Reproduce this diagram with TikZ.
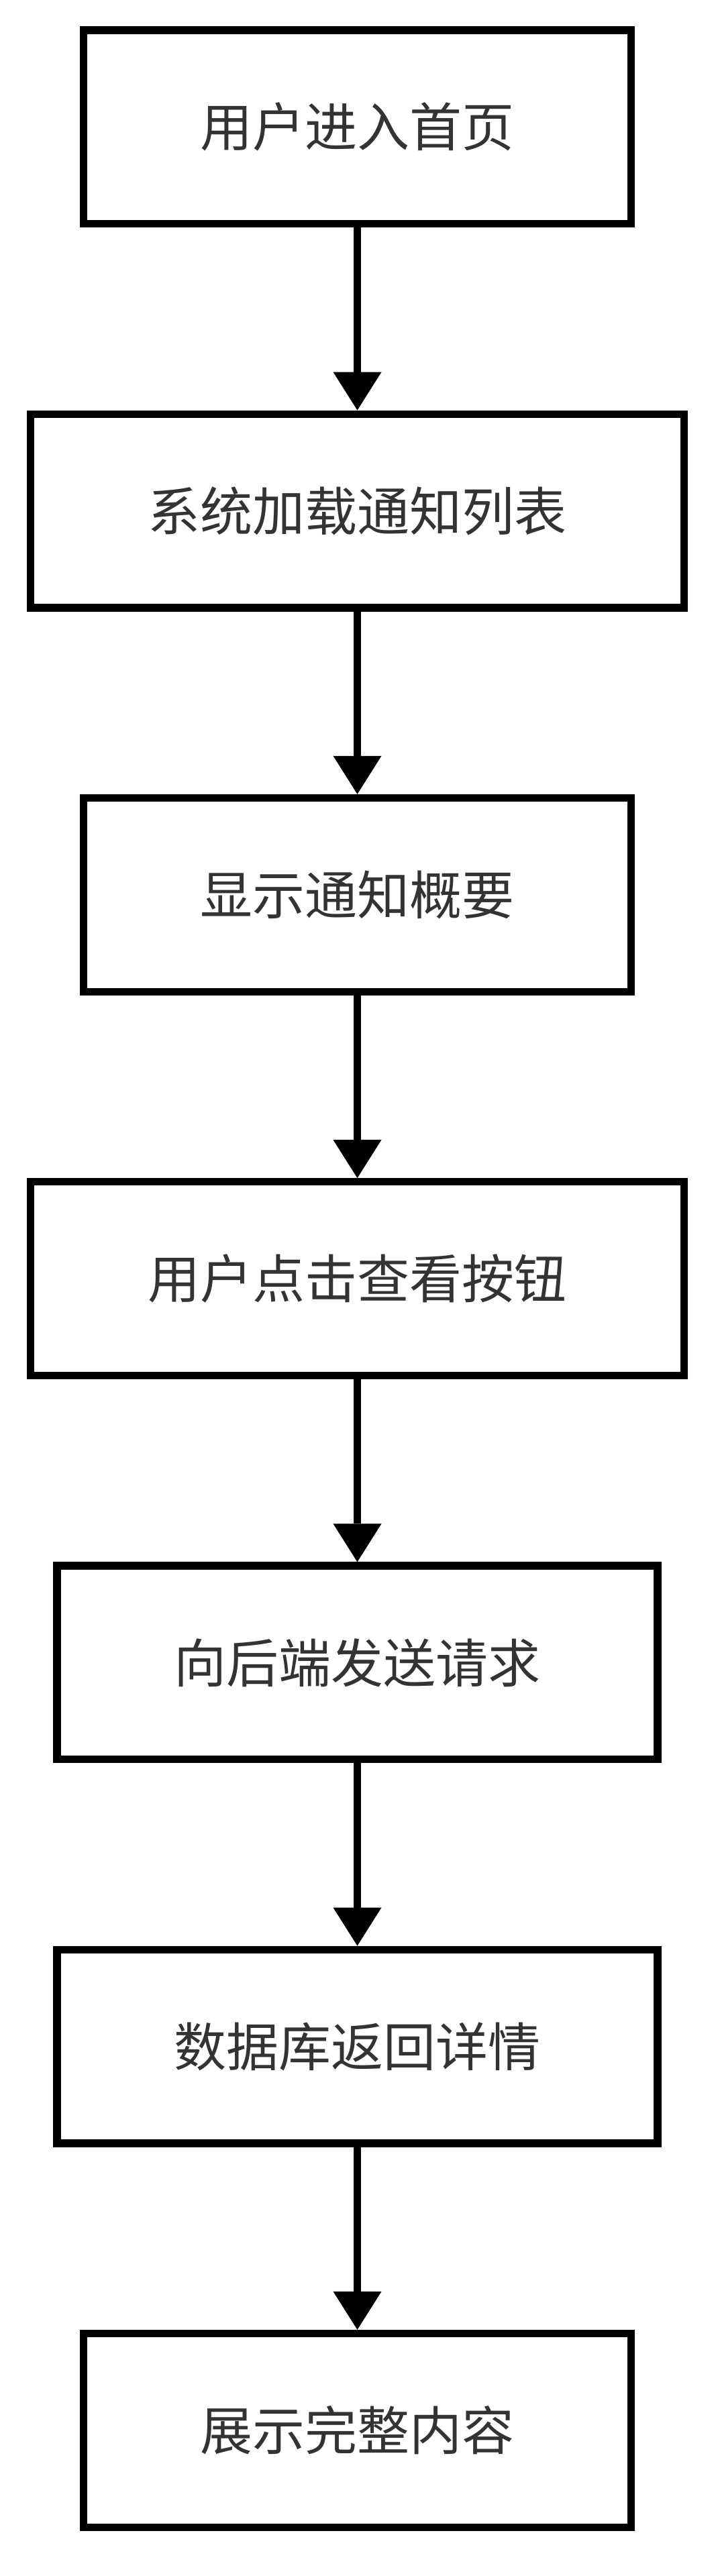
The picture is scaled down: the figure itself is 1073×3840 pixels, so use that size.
\documentclass[tikz,border=0pt]{standalone}
\usepackage{fontspec}
\setmainfont{Noto Sans CJK SC}
\usetikzlibrary{arrows.meta}
\definecolor{txt}{HTML}{333333}
\tikzset{
  stepbox/.style={draw=black, line width=11.3pt, rectangle, inner sep=0pt,
    minimum height=288.7pt, text=txt, font=\fontsize{78pt}{90pt}\selectfont},
  narrowbox/.style={stepbox, minimum width=816pt},
  widebox/.style={stepbox, minimum width=974.5pt},
  midbox/.style={stepbox, minimum width=895pt},
  flow/.style={draw=black, line width=11.3pt,
    -{Triangle[length=57pt, width=72pt, line width=0pt]}}
}
\begin{document}
\begin{tikzpicture}[x=1pt, y=-1pt]
\useasboundingbox (0,0) rectangle (1073,3840);
\node[narrowbox] (n1) at (532.5,189.35) {用户进入首页};
\node[widebox]   (n2) at (532.5,761.6)  {系统加载通知列表};
\node[narrowbox] (n3) at (532.5,1333.85) {显示通知概要};
\node[widebox]   (n4) at (532.5,1906.1) {用户点击查看按钮};
\node[midbox]    (n5) at (532.5,2478.35) {向后端发送请求};
\node[midbox]    (n6) at (532.5,3050.6) {数据库返回详情};
\node[narrowbox] (n7) at (532.5,3622.85) {展示完整内容};
\draw[flow] (n1) -- (n2);
\draw[flow] (n2) -- (n3);
\draw[flow] (n3) -- (n4);
\draw[flow] (n4) -- (n5);
\draw[flow] (n5) -- (n6);
\draw[flow] (n6) -- (n7);
\end{tikzpicture}
\end{document}
